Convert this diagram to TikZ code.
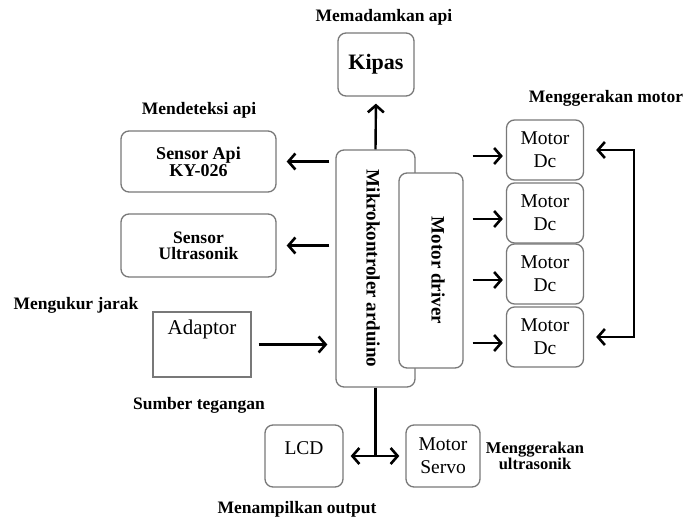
\documentclass[tikz,border=0pt]{standalone}
\usepackage{fontspec}
\setmainfont{Liberation Serif}
\usepackage{graphicx}
\usetikzlibrary{arrows.meta}
\definecolor{garis}{HTML}{787878}

\begin{document}
\begin{tikzpicture}[x=1pt, y=-1pt,
	blok/.style={draw=garis, line width=1.3pt, rounded corners=8pt, align=center, inner sep=0pt},
	ujung/.tip={Straight Barb[length=7pt,width=16pt,line width=2.6pt]},
	panah/.style={line width=2.4pt, -ujung},
	ket/.style={font=\fontsize{17.5}{16}\selectfont\bfseries, align=center}]
	\useasboundingbox (0,0) rectangle (684,519);
	%blok tengah
	\node[blok, minimum width=79, minimum height=237, font=\fontsize{19}{20}\selectfont\bfseries] (mcu) at (375.5,268.5)
	{\rotatebox{-90}{Mikrokontroler arduino}\hspace*{5pt}};
	\node[blok, fill=white, minimum width=64, minimum height=195, font=\fontsize{19}{21}\selectfont\bfseries] (drv) at (431,270.5)
	{\hspace*{14pt}\rotatebox{-90}{Motor driver}};
	%blok lain
	\node[blok, minimum width=76, minimum height=63, font=\fontsize{22}{24}\selectfont\bfseries] (kipas) at (376,64.5) {Kipas};
	\node[blok, minimum width=155, minimum height=61, font=\fontsize{18}{14}\selectfont\bfseries] (api) at (198.5,161.5) {Sensor Api\\KY-026};
	\node[blok, minimum width=155, minimum height=63, font=\fontsize{17.5}{16}\selectfont\bfseries] (ultra) at (198.5,245.5) {Sensor\\Ultrasonik};
	\node[blok, sharp corners, minimum width=98, minimum height=65, text height=14pt, text depth=34pt, font=\fontsize{21}{22}\selectfont] (adaptor) at (202,344.5) {Adaptor};
	\foreach \y [count=\i] in {150,213,274,337}
	\node[blok, minimum width=77, minimum height=60, font=\fontsize{19.5}{23}\selectfont] (m\i) at (545,\y) {Motor\\Dc};
	\node[blok, minimum width=78, minimum height=62, text height=13pt, text depth=16pt, font=\fontsize{19.5}{23}\selectfont] (lcd) at (304,456) {LCD};
	\node[blok, minimum width=74, minimum height=62, font=\fontsize{19.5}{23}\selectfont] (servo) at (443,456) {Motor\\Servo};
	%panah
	\draw[panah, shorten >=7pt] (mcu.north) -- (kipas.south);
	\draw[panah, shorten <=6pt, shorten >=10pt] (mcu.west |- api.east) -- (api.east);
	\draw[panah, shorten <=6pt, shorten >=10pt] (mcu.west |- ultra.east) -- (ultra.east);
	\draw[panah, shorten <=7pt, shorten >=8pt] (adaptor.east) -- (mcu.west |- adaptor.east);
	\foreach \i in {1,...,4}{
		\coordinate (ujung\i) at ([yshift=-6pt]m\i.west);
		\draw[panah, shorten <=9pt, shorten >=3pt] (drv.east |- ujung\i) -- (ujung\i);
	}
	\draw[panah, line width=2pt, ujung-ujung]
	([xshift=12pt]m1.east) -- ++(38,0) |- ([xshift=12pt]m4.east);
	\draw[line width=2.4pt] (mcu.south) -- (mcu.south |- lcd.east);
	\draw[panah, ujung-ujung, shorten <=7pt, shorten >=6pt] (lcd.east) -- (servo.west);
	%keterangan
	\node[ket] (lblkipas) at (384,17) {Memadamkan api};
	\node[ket] (lblapi) at (199,110) {Mendeteksi api};
	\node[ket] (lbljarak) at (76,305) {Mengukur jarak};
	\node[ket] (lblsumber) at (199,405) {Sumber tegangan};
	\node[ket] (lblmotor) at (606,98) {Menggerakan motor};
	\node[ket, font=\fontsize{16.5}{16}\selectfont\bfseries] (lblservo) at (535,456) {Menggerakan\\ultrasonik};
	\node[ket] (lbloutput) at (297,509) {Menampilkan output};
\end{tikzpicture}
\end{document}
